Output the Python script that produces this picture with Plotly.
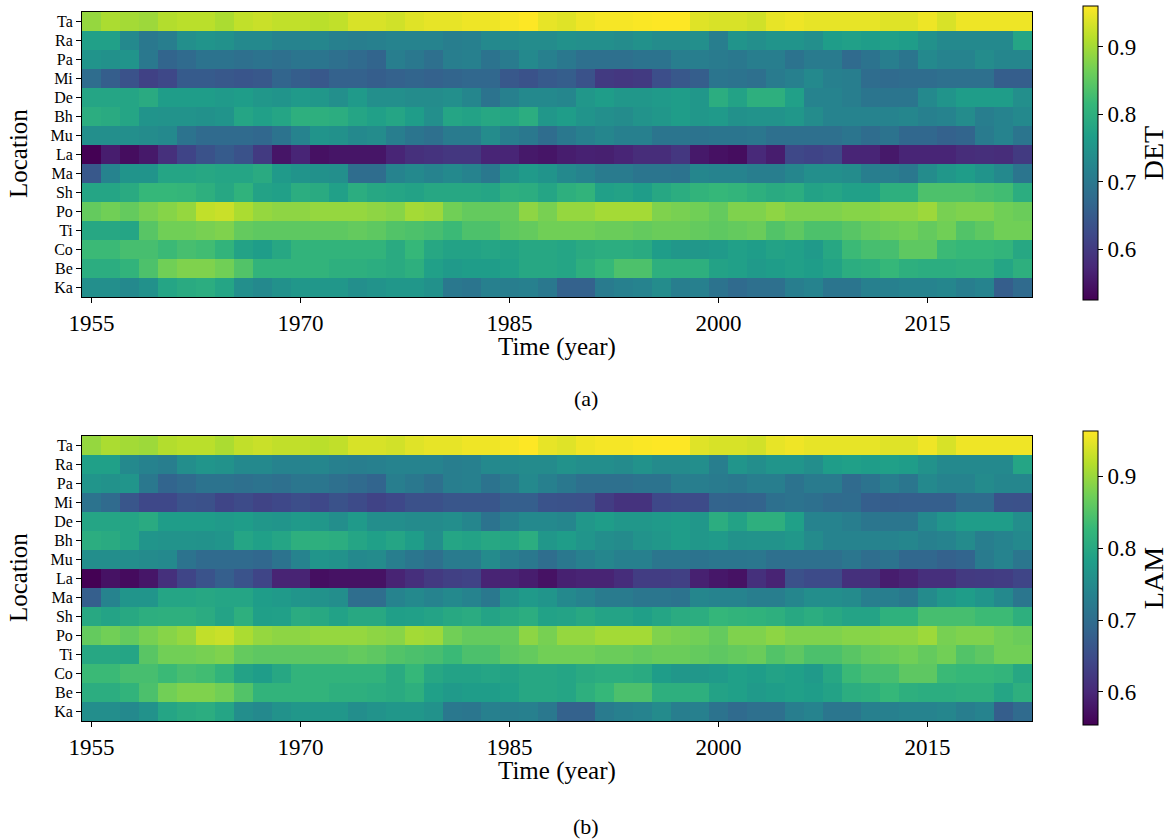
import plotly.graph_objects as go

locations = ["Ta", "Ra", "Pa", "Mi", "De", "Bh", "Mu", "La", "Ma", "Sh", "Po", "Ti", "Co", "Be", "Ka"]
year_labels = ["1955", "1970", "1985", "2000", "2015"]
year_label_index = [0, 11, 22, 33, 44]
n_windows = 50

# ---------------- DET (percent) ----------------
det_ta = [89, 90.5, 90, 89.5, 91, 91.5, 91.5, 90.5, 92, 92.5, 92, 92, 91.5, 92, 93.5, 93.5, 93,
          94, 94.5, 94.5, 95, 95, 95.5, 96, 94.5, 94, 95, 95.5, 95.5, 95.8, 96, 96, 94, 93.5,
          93.5, 93, 94.5, 95, 94.5, 94.5, 94.5, 94.5, 94, 94, 95, 93.5, 95, 95, 95, 95]
det_ra = [77, 77, 73, 70, 71, 74, 75, 74.5, 73, 73, 72, 72, 72.5, 71.5, 71, 71.5, 72,
          72, 72, 71, 71.5, 73, 73, 73.5, 73.5, 74.5, 74, 74, 73.5, 74.5, 73.5, 73.5, 74, 71,
          75, 74, 75, 75, 74, 76.5, 77, 76.5, 77, 76.5, 74.5, 73, 73, 73, 73, 78]
det_pa = [75, 74.5, 75, 70, 66.5, 67.5, 69, 69, 68.5, 69, 68.5, 69.5, 69.5, 68.5, 67.5, 66.5, 71,
          70, 68.5, 71, 71.5, 69, 70.5, 73, 71.5, 70, 68.5, 68.5, 68.5, 69, 69, 71, 71, 70.5,
          70, 71, 71, 69, 70.5, 70.5, 67.5, 69, 71, 69.5, 73, 72, 72, 73.5, 72.5, 72.5]
det_mi = [68, 65.5, 63.5, 61, 62, 65, 65, 64.5, 64, 64.5, 66.5, 65.5, 64.5, 66, 66, 65.5, 66,
          66.5, 66, 66.5, 67, 67, 64.5, 63.5, 64.8, 65.5, 63.5, 60, 59.5, 60, 63, 64.5, 65.5, 69.5,
          69, 68.5, 70.5, 71.5, 73, 71.5, 71, 68, 67.5, 68, 68, 68.5, 68.5, 68.5, 65.5, 65.5]
det_de = [78, 78, 78, 79, 76.5, 76.5, 76.5, 76, 76.5, 75.5, 75, 76, 75.5, 74, 76, 74, 74,
          73.5, 73.5, 74, 72.5, 69, 71.5, 73, 73, 72.5, 75.5, 76.5, 75.5, 75.5, 76, 76.5, 75.5, 79.5,
          77.5, 80, 80, 77, 72, 72, 71, 69.5, 69.5, 69.5, 73, 75, 76.5, 76.5, 76.5, 74]
det_bh = [79.5, 79, 78, 75, 74.8, 74.8, 74.5, 75, 78, 77, 78, 80, 80, 79.5, 78, 77, 78,
          76.5, 74, 78, 77.5, 78.5, 78, 79.5, 75.5, 76.5, 75, 74, 73.5, 74.8, 75.5, 76.5, 75.5, 76,
          74.5, 74.8, 74.8, 75.5, 73.5, 72, 72, 72, 72, 72.5, 71.5, 72, 73.5, 71, 72, 73]
det_mu = [74, 74, 74, 73.5, 73, 69, 67.5, 67.5, 67.5, 67, 69, 72, 75, 74.5, 73, 73.5, 71,
          69.5, 68.5, 70.5, 70.5, 73.5, 71, 70, 68, 70, 71.5, 72.5, 71.5, 71.5, 69.5, 69.5, 69, 69.5,
          69.5, 69.8, 68.5, 68.5, 68.5, 68.5, 69.5, 68, 69, 67, 67, 66, 66.5, 70.5, 72, 69.5]
det_la = [52.5, 56, 54, 55.5, 58.5, 61.5, 63.5, 65, 63.5, 60, 55, 57, 54.5, 55, 55, 55, 57,
          58.5, 59, 59.5, 59.5, 57, 57, 55.5, 55, 56, 56.5, 56.3, 57, 58, 58, 59.5, 55.5, 54.5,
          54, 57.5, 56, 62, 61.5, 62, 57, 57, 55.5, 57, 57, 57, 58, 58.3, 58, 60]
det_ma = [64.5, 72, 75, 75, 78, 78, 78.5, 78, 78, 79, 76, 75, 74.5, 74, 68, 68, 72,
          73, 72, 73, 72, 70, 74.5, 76, 75, 73, 72, 70.5, 70.5, 69.5, 69.5, 69, 72.5, 72,
          72, 71, 71, 72.5, 74, 74, 73.5, 71, 71, 70, 73.5, 75.5, 76.5, 75, 73, 69.5]
det_sh = [78, 78, 79, 81.5, 81.5, 81.2, 80, 78.5, 80.5, 77.5, 77, 79.5, 79, 77, 79.5, 78.5, 78,
          77.5, 78.5, 78.5, 78.5, 78, 80, 79.5, 78, 80, 80.8, 77, 77.5, 76.5, 78.5, 79.5, 80.8, 81.5,
          81, 80, 79, 79.5, 77.5, 78, 77, 77, 80, 80, 83.5, 83.5, 83.5, 83, 82.5, 79.5]
det_po = [85.5, 86.5, 85.5, 87, 88, 89, 92, 92.5, 90.5, 89, 88.5, 88.5, 89, 89, 89, 88.5, 88,
          90, 89.5, 86.5, 85.5, 85.5, 85.5, 88.5, 87, 89, 89, 90, 90, 90, 87.5, 87, 86.5, 85.5,
          87.5, 87.5, 88.5, 87.5, 87.5, 87.5, 88, 88, 88.5, 88.5, 89.5, 87, 87.5, 87.5, 86.5, 86]
det_ti = [78.5, 78.5, 78, 84.5, 86.5, 86.5, 87, 87.5, 85.5, 85, 85, 85, 85, 85, 85.5, 85, 84,
          83.5, 83, 82, 83.5, 83.5, 85, 85.5, 86.5, 86.5, 86.5, 86, 86, 85.5, 86, 86, 85.5, 85,
          85.5, 86, 84, 85, 83.5, 83.5, 84.5, 85.5, 86, 86.5, 85.5, 86.5, 84, 85, 86.5, 86.5]
det_co = [82, 82, 83, 83, 82, 83, 82.5, 80.8, 77.5, 76.5, 78.5, 80.8, 80.8, 80.8, 80.8, 80.8, 79,
          81.5, 78.5, 77.5, 77.5, 78, 77.5, 78.5, 78.5, 78, 79, 79.5, 79.5, 79, 76.5, 75.5, 75.5, 76,
          77, 76.5, 77.5, 77, 76, 78.5, 82, 83, 83, 85, 85, 82, 81.5, 81.5, 81, 78.5]
det_be = [79.5, 79.5, 80.8, 83.5, 86.5, 87.5, 87.5, 86.5, 84, 80.8, 80.8, 80.8, 80.8, 80, 80, 79.5, 79,
          80, 77, 76, 76.5, 76.5, 77, 78.5, 78.5, 78, 80, 81.5, 83.5, 83.5, 80, 80, 80, 77.5,
          77, 76, 76.5, 77, 76.5, 77.5, 79.5, 80, 81.5, 80, 79.5, 79.5, 80, 80, 78, 80]
det_ka = [74, 74, 73, 74.5, 78, 79, 79.5, 78, 74, 73, 74.5, 75.5, 75.5, 75.5, 74, 74.8, 75.5,
          75.5, 74.5, 70, 69.5, 71.5, 71, 71.5, 70, 66, 66, 70.5, 71.5, 72, 73.5, 71, 71.5, 69,
          67.5, 68.5, 68.5, 71, 72, 69.5, 69.5, 71.5, 71.5, 72, 72, 72.5, 71, 72, 65.5, 67.5]

# ---------------- LAM (percent) ----------------
lam_ta = [89.7, 91.1, 90.6, 90.2, 91.6, 92.1, 92.1, 91.1, 92.5, 93.0, 92.5, 92.5, 92.1, 92.5, 93.9, 93.9, 93.5,
          94.4, 94.9, 94.9, 95.4, 95.4, 95.8, 96.3, 94.9, 94.4, 95.4, 95.8, 95.8, 96.1, 96.3, 96.3, 94.4, 93.9,
          93.9, 93.5, 94.9, 95.4, 94.9, 94.9, 94.9, 94.9, 94.4, 94.4, 95.4, 93.9, 95.4, 95.4, 95.4, 95.4]
lam_ra = [78.4, 78.4, 74.7, 73.5, 72.8, 75.6, 76.6, 76.1, 74.7, 74.7, 73.7, 73.7, 74.2, 73.3, 72.8, 73.3, 73.7,
          73.7, 73.7, 72.8, 73.3, 74.7, 74.7, 75.1, 75.1, 76.1, 75.6, 75.6, 75.1, 76.1, 75.1, 75.1, 75.6, 72.8,
          76.6, 75.6, 76.6, 76.6, 75.6, 78.0, 78.4, 78.0, 78.4, 78.0, 76.1, 74.7, 74.7, 74.7, 74.7, 79.4]
lam_pa = [76.6, 76.1, 76.6, 71.8, 68.6, 69.5, 70.9, 70.9, 70.4, 70.9, 70.4, 71.4, 71.4, 70.4, 69.5, 68.6, 72.8,
          71.8, 70.4, 72.8, 73.3, 70.9, 72.3, 74.7, 73.3, 71.8, 70.4, 70.4, 70.4, 70.9, 70.9, 72.8, 72.8, 72.3,
          71.8, 72.8, 72.8, 70.9, 72.3, 72.3, 69.5, 70.9, 72.8, 71.4, 74.7, 73.7, 73.7, 75.1, 74.2, 74.2]
lam_mi = [70.9, 69.5, 66.4, 64.4, 64.4, 66.0, 65.6, 64.0, 64.8, 63.8, 64.4, 65.2, 64.4, 65.8, 64.8, 63.6, 64.4,
          65.6, 65.6, 66.4, 66.4, 66.4, 67.7, 67.7, 66.0, 65.8, 65.6, 62.8, 61.5, 61.5, 64.4, 64.8, 64.8, 68.5,
          68.3, 68.5, 70.5, 71.0, 70.5, 69.5, 69.7, 67.7, 67.5, 67.7, 67.7, 67.7, 69.7, 69.7, 65.8, 65.6]
lam_de = [79.4, 79.4, 79.4, 80.3, 78.0, 78.0, 78.0, 77.5, 78.0, 77.0, 76.6, 77.5, 77.0, 75.6, 77.5, 75.6, 75.6,
          75.1, 75.1, 75.6, 74.2, 70.9, 73.3, 74.7, 74.7, 74.2, 77.0, 78.0, 77.0, 77.0, 77.5, 78.0, 77.0, 80.8,
          78.9, 81.2, 81.2, 78.4, 73.7, 73.7, 72.8, 71.4, 71.4, 71.4, 74.7, 76.6, 78.0, 78.0, 78.0, 75.6]
lam_bh = [80.8, 80.3, 79.4, 76.6, 76.4, 76.4, 76.1, 76.6, 79.4, 78.4, 79.4, 81.2, 81.2, 80.8, 79.4, 78.4, 79.4,
          78.0, 75.6, 79.4, 78.9, 79.8, 79.4, 80.8, 77.0, 78.0, 76.6, 75.6, 75.1, 76.4, 77.0, 78.0, 77.0, 77.5,
          76.1, 76.4, 76.4, 77.0, 75.1, 73.7, 73.7, 73.7, 73.7, 74.2, 73.3, 73.7, 75.1, 72.8, 73.7, 74.7]
lam_mu = [75.6, 75.6, 75.6, 75.1, 74.7, 70.9, 69.5, 69.5, 69.5, 69.0, 70.9, 73.7, 76.6, 76.1, 74.7, 75.1, 72.8,
          71.4, 70.4, 72.3, 72.3, 75.1, 72.8, 71.8, 70.0, 71.8, 73.3, 74.2, 73.3, 73.3, 71.4, 71.4, 70.9, 71.4,
          71.4, 71.7, 70.4, 70.4, 70.4, 70.4, 71.4, 70.0, 70.9, 69.0, 69.0, 68.1, 68.6, 72.3, 73.7, 71.4]
lam_la = [55.4, 57.4, 56.6, 57.9, 61.1, 64.0, 66.0, 67.7, 66.0, 64.0, 59.5, 59.5, 57.0, 57.4, 57.4, 57.4, 59.5,
          60.9, 62.4, 63.2, 63.6, 59.5, 59.5, 58.7, 57.4, 59.1, 59.5, 59.5, 60.7, 62.8, 62.8, 63.2, 59.1, 58.0,
          57.4, 61.1, 59.5, 65.6, 64.8, 64.8, 61.1, 61.1, 58.7, 59.5, 60.9, 60.9, 62.4, 62.6, 62.8, 64.0]
lam_ma = [67.7, 73.7, 76.6, 76.6, 79.4, 79.4, 79.8, 79.4, 79.4, 78.0, 77.5, 76.6, 76.1, 75.6, 70.0, 70.0, 73.7,
          74.7, 73.7, 74.7, 73.7, 71.8, 76.1, 77.5, 76.6, 74.7, 73.7, 72.3, 72.3, 71.4, 71.4, 70.9, 74.2, 73.7,
          73.7, 72.8, 72.8, 74.2, 75.6, 75.6, 75.1, 72.8, 72.8, 71.8, 75.1, 77.0, 78.0, 76.6, 74.7, 71.4]
lam_sh = [80.0, 79.1, 80.0, 81.0, 81.2, 81.2, 80.5, 79.1, 81.2, 78.3, 78.5, 80.5, 80.0, 78.8, 80.0, 80.0, 78.3,
          78.5, 79.1, 80.0, 80.5, 79.1, 80.0, 80.8, 78.8, 79.1, 80.0, 79.1, 79.1, 78.3, 79.4, 80.5, 80.8, 82.5,
          82.0, 81.7, 81.2, 80.0, 80.8, 80.0, 79.1, 79.1, 81.5, 81.5, 84.0, 84.0, 84.0, 83.2, 83.2, 81.2]
lam_po = [86.4, 87.4, 86.4, 87.8, 88.8, 89.7, 92.5, 93.0, 91.1, 89.7, 89.2, 89.2, 89.7, 89.7, 89.7, 89.2, 88.8,
          90.6, 90.2, 87.4, 86.4, 86.4, 86.4, 89.2, 87.8, 89.7, 89.7, 90.6, 90.6, 90.6, 88.3, 87.8, 87.4, 86.4,
          88.3, 88.3, 89.2, 88.3, 88.3, 88.3, 88.8, 88.8, 89.2, 89.2, 90.2, 87.8, 88.3, 88.3, 87.4, 86.9]
lam_ti = [79.8, 79.8, 79.4, 85.5, 87.4, 87.4, 87.8, 88.3, 86.4, 85.9, 85.9, 85.9, 85.9, 85.9, 86.4, 85.9, 85.0,
          84.5, 84.1, 83.1, 84.5, 84.5, 85.9, 86.4, 87.4, 87.4, 87.4, 86.9, 86.9, 86.4, 86.9, 86.9, 86.4, 85.9,
          86.4, 86.9, 85.0, 85.9, 84.5, 84.5, 85.5, 86.4, 86.9, 87.4, 86.4, 87.4, 85.0, 85.9, 87.4, 87.4]
lam_co = [83.1, 83.1, 84.1, 84.1, 83.1, 84.1, 83.6, 82.0, 78.9, 78.0, 79.8, 82.0, 82.0, 82.0, 82.0, 82.0, 80.3,
          82.7, 79.8, 78.9, 78.9, 79.4, 78.9, 79.8, 79.8, 79.4, 80.3, 80.8, 80.8, 80.3, 78.0, 77.0, 77.0, 77.5,
          78.4, 78.0, 78.9, 78.4, 77.5, 79.8, 83.1, 84.1, 84.1, 85.9, 85.9, 83.1, 82.7, 82.7, 82.2, 79.8]
lam_be = [80.8, 80.8, 82.0, 84.5, 87.4, 88.3, 88.3, 87.4, 85.0, 82.0, 82.0, 82.0, 82.0, 81.2, 81.2, 80.8, 80.3,
          81.2, 78.4, 77.5, 78.0, 78.0, 78.4, 79.8, 79.8, 79.4, 81.2, 82.7, 84.5, 84.5, 81.2, 81.2, 81.2, 78.9,
          78.4, 77.5, 78.0, 78.4, 78.0, 78.9, 80.8, 81.2, 82.7, 81.2, 80.8, 80.8, 81.2, 81.2, 79.4, 81.2]
lam_ka = [75.6, 75.6, 74.7, 76.1, 79.4, 80.3, 80.8, 79.4, 75.6, 74.7, 76.1, 77.0, 77.0, 77.0, 75.6, 76.4, 77.0,
          77.0, 76.1, 71.8, 71.4, 73.3, 72.8, 73.3, 71.8, 68.1, 68.1, 72.3, 73.3, 73.7, 75.1, 72.8, 73.3, 70.9,
          69.5, 70.4, 70.4, 72.8, 73.7, 71.4, 71.4, 73.3, 73.3, 73.7, 73.7, 74.2, 72.8, 73.7, 67.6, 69.5]

det_rows = [det_ta, det_ra, det_pa, det_mi, det_de, det_bh, det_mu, det_la, det_ma, det_sh,
            det_po, det_ti, det_co, det_be, det_ka]
lam_rows = [lam_ta, lam_ra, lam_pa, lam_mi, lam_de, lam_bh, lam_mu, lam_la, lam_ma, lam_sh,
            lam_po, lam_ti, lam_co, lam_be, lam_ka]

z_det = [[v / 100.0 for v in r] for r in det_rows]
z_lam = [[v / 100.0 for v in r] for r in lam_rows]
x_idx = list(range(n_windows))

FONT = "Liberation Serif"
W, H = 1169, 840

def px_x(p):
    return p / W

def px_y(p):
    return 1 - p / H

cb_ticks = [0.6, 0.7, 0.8, 0.9]

def colorbar(title, top, bottom):
    return dict(
        title=dict(text=title, side="right", font=dict(family=FONT, size=28, color="black")),
        x=px_x(1083), xanchor="left", xpad=0,
        y=px_y((top + bottom) / 2), yanchor="middle", ypad=0,
        len=(bottom - top) / H, lenmode="fraction",
        thickness=15, thicknessmode="pixels",
        outlinewidth=1, outlinecolor="black",
        tickvals=cb_ticks, ticktext=[f"{t:.1f}" for t in cb_ticks],
        ticks="outside", ticklen=5, tickcolor="black",
        tickfont=dict(family=FONT, size=23, color="black"),
    )

fig = go.Figure()
fig.add_trace(go.Heatmap(z=z_det, x=x_idx, y=locations, colorscale="Viridis",
                         zmin=0.525, zmax=0.96, xaxis="x", yaxis="y",
                         colorbar=colorbar("DET", 6, 300)))
fig.add_trace(go.Heatmap(z=z_lam, x=x_idx, y=locations, colorscale="Viridis",
                         zmin=0.554, zmax=0.963, xaxis="x2", yaxis="y2",
                         colorbar=colorbar("LAM", 431, 725)))

axis_common = dict(showline=True, linecolor="black", linewidth=1, mirror=True,
                   ticks="outside", ticklen=5, tickcolor="black", showgrid=False,
                   zeroline=False, automargin=False)

xd = [px_x(82), px_x(1032)]
xaxis_cfg = dict(axis_common, domain=xd, range=[-0.5, n_windows - 0.5],
                 tickmode="array", tickvals=year_label_index, ticktext=year_labels,
                 tickfont=dict(family=FONT, size=23, color="black"))
yaxis_cfg = dict(axis_common, autorange="reversed", type="category",
                 tickmode="array", tickvals=locations, ticktext=locations,
                 tickfont=dict(family=FONT, size=16, color="black"))

fig.update_layout(
    width=W, height=H,
    margin=dict(l=0, r=0, t=0, b=0, autoexpand=False),
    paper_bgcolor="white", plot_bgcolor="white",
    font=dict(family=FONT, size=20, color="black"),
    xaxis=dict(xaxis_cfg, anchor="y"),
    yaxis=dict(yaxis_cfg, domain=[px_y(297), px_y(12)], anchor="x"),
    xaxis2=dict(xaxis_cfg, anchor="y2"),
    yaxis2=dict(yaxis_cfg, domain=[px_y(721), px_y(436)], anchor="x2"),
)

ann = []
for ycen_t, ycen_loc, cap, ycap in [(347, 154, "(a)", 398), (771, 578, "(b)", 826)]:
    ann.append(dict(text="Time (year)", x=px_x(557), y=px_y(ycen_t), xref="paper", yref="paper",
                    showarrow=False, xanchor="center", yanchor="middle",
                    font=dict(family=FONT, size=25, color="black")))
    ann.append(dict(text="Location", x=px_x(18), y=px_y(ycen_loc), xref="paper", yref="paper",
                    showarrow=False, xanchor="center", yanchor="middle", textangle=-90,
                    font=dict(family=FONT, size=25, color="black")))
    ann.append(dict(text=cap, x=px_x(586), y=px_y(ycap), xref="paper", yref="paper",
                    showarrow=False, xanchor="center", yanchor="middle",
                    font=dict(family=FONT, size=22, color="black")))
fig.update_layout(annotations=ann)

fig.write_html("out.html")
